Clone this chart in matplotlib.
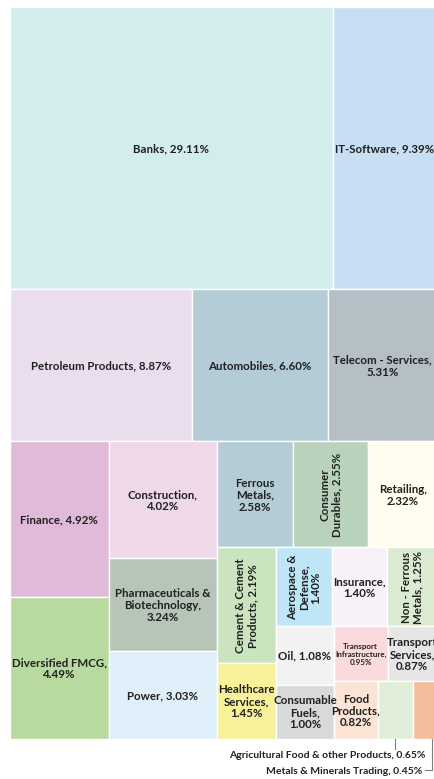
import matplotlib
matplotlib.use("Agg")
import matplotlib.pyplot as plt
from matplotlib.patches import Rectangle

plt.rcParams['font.family'] = ['Lato', 'DejaVu Sans']

# sector weights (%), in treemap order
sectors = ["Banks", "IT-Software", "Petroleum Products", "Automobiles",
           "Telecom - Services", "Finance", "Diversified FMCG", "Construction",
           "Pharmaceuticals & Biotechnology", "Power", "Ferrous Metals",
           "Consumer Durables", "Retailing", "Cement & Cement Products",
           "Healthcare Services", "Aerospace & Defense", "Insurance",
           "Non - Ferrous Metals", "Oil", "Consumable Fuels",
           "Transport Infrastructure", "Transport Services", "Food Products",
           "Agricultural Food & other Products", "Metals & Minerals Trading"]
weights = [29.11, 9.39, 8.87, 6.60, 5.31, 4.92, 4.49, 4.02, 3.24, 3.03, 2.58,
           2.55, 2.32, 2.19, 1.45, 1.40, 1.40, 1.25, 1.08, 1.00, 0.95, 0.87,
           0.82, 0.65, 0.45]
# label text as wrapped in the chart
labels = ["Banks, 29.11%", "IT-Software, 9.39%", "Petroleum Products, 8.87%",
          "Automobiles, 6.60%", "Telecom - Services,\n5.31%", "Finance, 4.92%",
          "Diversified FMCG,\n4.49%", "Construction,\n4.02%",
          "Pharmaceuticals &\nBiotechnology,\n3.24%", "Power, 3.03%",
          "Ferrous\nMetals,\n2.58%", "Consumer\nDurables, 2.55%",
          "Retailing,\n2.32%", "Cement & Cement\nProducts, 2.19%",
          "Healthcare\nServices,\n1.45%", "Aerospace &\nDefense,\n1.40%",
          "Insurance,\n1.40%", "Non - Ferrous\nMetals, 1.25%", "Oil, 1.08%",
          "Consumable\nFuels,\n1.00%", "Transport\nInfrastructure,\n0.95%",
          "Transport\nServices,\n0.87%", "Food\nProducts,\n0.82%",
          "Agricultural Food & other Products, 0.65%",
          "Metals & Minerals Trading, 0.45%"]
colors = ["#D3ECEC", "#C8DEF3", "#EADDEE", "#B4CCD5", "#B4C0C5", "#DFBAD9",
          "#B8DA9F", "#EED8EA", "#B6C5B7", "#DFF0FA", "#B4CCD6", "#B8D2BC",
          "#FFFDF0", "#CBE4C0", "#F8F19A", "#BEE6F6", "#F8F2F8", "#DBEBD2",
          "#F2F2F2", "#D9D9D9", "#FBDADD", "#E6E6E6", "#FBE3D6", "#E1EFDA",
          "#F4BE9C"]

# how many items go into each strip of the layout
strip_sizes = [2, 3, 2, 3, 3, 2, 3, 2, 2, 1, 1, 1]
rotated = {"Consumer Durables", "Cement & Cement Products",
           "Aerospace & Defense", "Non - Ferrous Metals"}
outside = {"Agricultural Food & other Products", "Metals & Minerals Trading"}


def layout(vals, sizes, x, y, w, h):
    scale = w * h / sum(vals)
    rects = []
    i = 0
    for n in sizes:
        chunk = vals[i:i + n]
        s = sum(chunk)
        if w <= h:
            sh = s * scale / w
            cx = x
            for v in chunk:
                vw = v * scale / sh
                rects.append((cx, y, vw, sh))
                cx += vw
            y += sh
            h -= sh
        else:
            sw = s * scale / h
            cy = y
            for v in chunk:
                vh = v * scale / sw
                rects.append((x, cy, sw, vh))
                cy += vh
            x += sw
            w -= sw
        i += n
    return rects


fig = plt.figure(figsize=(4.34, 7.79), dpi=100)
ax = fig.add_axes([0, 0, 1, 1])
ax.set_xlim(0, 434)
ax.set_ylim(779, 0)
ax.axis('off')

rects = layout(weights, strip_sizes, 10, 7, 427, 732)

for name, lab, col, (x, y, w, h) in zip(sectors, labels, colors, rects):
    ax.add_patch(Rectangle((x, y), w, h, facecolor=col, edgecolor='white', lw=1.0))
    if name in outside:
        continue
    fs = 5.8 if name == "Transport Infrastructure" else 8.3
    ax.text(x + w / 2, y + h / 2 + 1, lab, ha='center', va='center', fontsize=fs,
            fontweight='bold', color='#202020', multialignment='center',
            rotation=90 if name in rotated else 0, linespacing=1.1)

# leader-line labels for the two smallest boxes
x, y, w, h = rects[sectors.index("Agricultural Food & other Products")]
ax.plot([x + w / 2, x + w / 2], [y + h, y + h + 10], color='#7f7f7f', lw=0.8)
ax.text(425, 756, labels[-2], ha='right', va='center', fontsize=7.5,
        fontweight='bold', color='#202020')

x, y, w, h = rects[sectors.index("Metals & Minerals Trading")]
lx = x + 0.8 * w
ax.plot([lx, lx, 425], [y + h, 770, 770], color='#7f7f7f', lw=0.8)
ax.text(422, 771, labels[-1], ha='right', va='center', fontsize=7.5,
        fontweight='bold', color='#202020')

fig.savefig("out.png", dpi=100)
